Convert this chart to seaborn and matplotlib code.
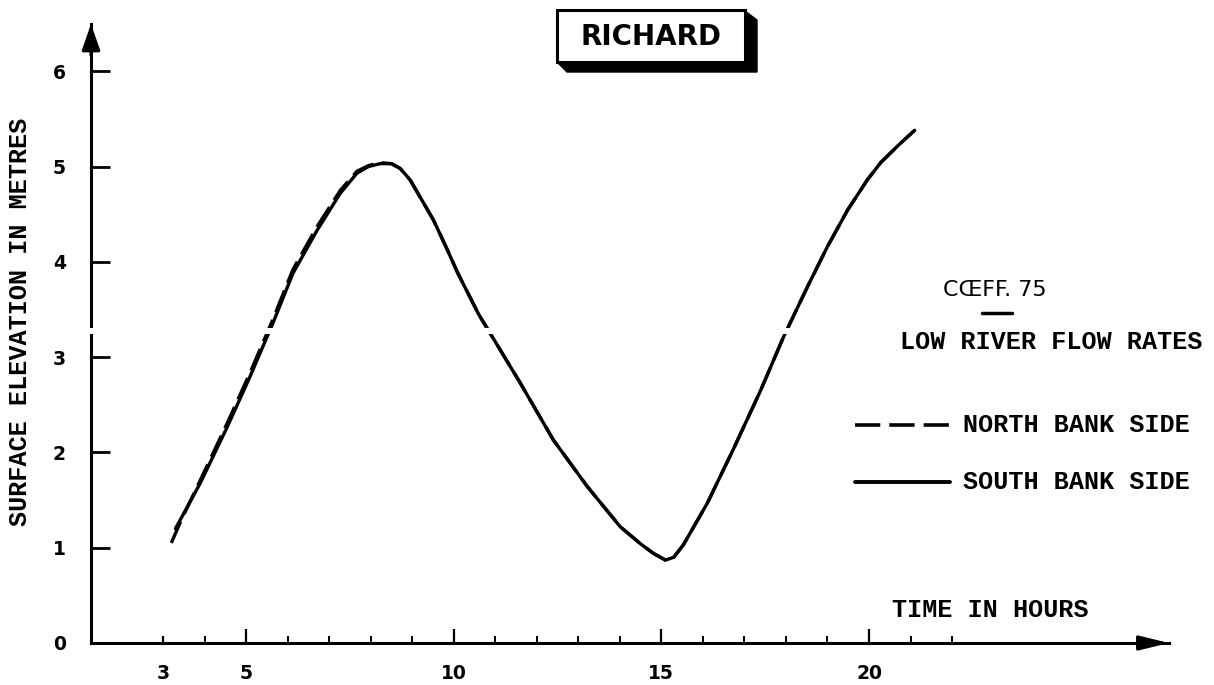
import numpy as np
import pandas as pd
import matplotlib
matplotlib.use("Agg")
import matplotlib.pyplot as plt
import matplotlib.transforms as mtransforms
from matplotlib.patches import Rectangle, Polygon
from matplotlib.lines import Line2D
import seaborn as sns

# ---------------- data ----------------
hours_south = [3.30, 3.90, 4.55, 5.10, 5.65, 6.13, 6.71, 7.27, 7.67, 7.95, 8.23, 8.50,
               8.71, 8.95, 9.51, 9.80, 10.10, 10.60, 11.60, 12.40, 13.22, 14.01, 14.50,
               14.81, 15.10, 15.30, 15.53, 16.11, 16.73, 17.39, 17.94, 18.52, 19.00,
               19.48, 19.96, 20.28, 20.70, 21.10]
elev_south = [1.20, 1.68, 2.27, 2.80, 3.36, 3.88, 4.33, 4.72, 4.93, 5.00, 5.03, 5.03,
              4.98, 4.86, 4.44, 4.17, 3.88, 3.45, 2.73, 2.13, 1.64, 1.22, 1.04,
              0.94, 0.87, 0.90, 1.03, 1.47, 2.03, 2.65, 3.21, 3.74, 4.16,
              4.54, 4.86, 5.04, 5.22, 5.38]

hours_north = [3.20, 3.45, 3.90, 4.55, 5.10, 5.65, 6.13, 6.71, 7.27, 7.67, 7.95, 8.23,
               8.50, 8.71, 8.95, 9.51, 9.80, 10.10, 10.60, 11.60, 12.40, 13.22, 14.01,
               14.50, 14.81, 15.10, 15.30, 15.53, 16.11, 16.73, 17.39, 17.94, 18.52,
               19.00, 19.48, 19.96, 20.28, 20.70, 21.10]
elev_north = [1.05, 1.30, 1.71, 2.31, 2.84, 3.40, 3.92, 4.37, 4.75, 4.95, 5.01, 5.04,
              5.03, 4.98, 4.86, 4.44, 4.17, 3.88, 3.45, 2.73, 2.13, 1.64, 1.22,
              1.04, 0.94, 0.87, 0.90, 1.03, 1.47, 2.03, 2.65, 3.21, 3.74,
              4.16, 4.54, 4.86, 5.04, 5.22, 5.38]

x_tick_labels = [3, 5, 10, 15, 20]
x_minor_ticks = [4, 6, 7, 8, 9, 11, 12, 13, 14, 16, 17, 18, 19, 21, 22]
y_ticks = [0, 1, 2, 3, 4, 5, 6]

title_text = "RICHARD"
y_label = "SURFACE ELEVATION IN METRES"
x_label = "TIME IN HOURS"
coeff_text = "CŒFF. 75"
flow_text = "LOW RIVER FLOW RATES"
north_label = "NORTH BANK SIDE"
south_label = "SOUTH BANK SIDE"

# ---------------- figure ----------------
sns.set_theme(style="white")
plt.rcParams["font.family"] = ["DejaVu Sans"]

W, H = 1214, 685
fig = plt.figure(figsize=(W / 100, H / 100), dpi=100)
fig.patch.set_facecolor("white")


def P(x, y):
    return (x / W, 1 - y / H)


ax_left, ax_right, ax_bottom, ax_top = 91, 1169, 643, 24
ax = fig.add_axes([ax_left / W, 1 - ax_bottom / H,
                   (ax_right - ax_left) / W, (ax_bottom - ax_top) / H])
ax.set_facecolor("white")

px_per_hour = (869 - 163) / 17.0
px_per_m = 95.3
ax.set_xlim(3 - (163 - ax_left) / px_per_hour, 3 + (ax_right - 163) / px_per_hour)
ax.set_ylim(0, (ax_bottom - ax_top) / px_per_m)

df_s = pd.DataFrame({"hour": hours_south, "elev": elev_south})
df_n = pd.DataFrame({"hour": hours_north, "elev": elev_north})

sns.lineplot(data=df_n, x="hour", y="elev", ax=ax, color="black", linewidth=2.4,
             linestyle=(0, (7, 2.5)), sort=False, estimator=None, zorder=3)
sns.lineplot(data=df_s, x="hour", y="elev", ax=ax, color="black", linewidth=2.4,
             sort=False, estimator=None, zorder=3)

# spines
for s in ["top", "right"]:
    ax.spines[s].set_visible(False)
for s in ["left", "bottom"]:
    ax.spines[s].set_visible(True)
    ax.spines[s].set_color("black")
    ax.spines[s].set_linewidth(2.2)

# arrows on the axes
ax.annotate("", xy=(1.0, 0), xycoords="axes fraction", xytext=(0.97, 0),
            arrowprops=dict(arrowstyle="-|>,head_length=0.9,head_width=0.22",
                            color="black", lw=2.2, shrinkA=0, shrinkB=0,
                            mutation_scale=20), annotation_clip=False)
ax.annotate("", xy=(0, 1.0), xycoords="axes fraction", xytext=(0, 0.95),
            arrowprops=dict(arrowstyle="-|>,head_length=0.8,head_width=0.28",
                            color="black", lw=2.2, shrinkA=0, shrinkB=0,
                            mutation_scale=20), annotation_clip=False)

# ticks
tick_font = dict(family="DejaVu Sans", weight="bold", size=13.5)
ax.set_xticks(x_tick_labels)
ax.set_xticklabels([str(v) for v in x_tick_labels], fontdict=tick_font)
ax.set_xticks(x_minor_ticks, minor=True)
ax.set_yticks(y_ticks)
ax.set_yticklabels([str(v) for v in y_ticks], fontdict=tick_font)
ax.tick_params(axis="x", which="major", direction="in", length=10, width=1.6,
               pad=15, colors="black", bottom=True)
ax.tick_params(axis="x", which="minor", direction="in", length=5, width=1.4,
               bottom=True, colors="black")
ax.tick_params(axis="y", which="major", direction="in", length=14, width=2.0,
               pad=18, colors="black", left=True)
ax.xaxis.get_major_ticks()[0].tick1line.set_markersize(5)
ax.set_xlabel("")
ax.set_ylabel("")
ax.grid(False)

# horizontal seam of the original scan (gap in lines just above 3 m)
seam_tr = mtransforms.blended_transform_factory(ax.transAxes, ax.transData)
ax.add_patch(Rectangle((-0.01, 3.24), 0.71, 0.07, transform=seam_tr,
                       facecolor="white", edgecolor="none", zorder=6, clip_on=False))

# axis titles
mono = dict(family="Liberation Mono", weight="bold", size=18.1, color="black")
fig.text(*P(20, 322), y_label, rotation=90, ha="center", va="center", **mono)
fig.text(*P(892, 610), x_label, ha="left", va="center", **mono)

# annotations / legend
fig.text(*P(943, 290), coeff_text, ha="left", va="center",
         family="DejaVu Sans", size=16, color="black")
fig.add_artist(Line2D([982 / W, 1012 / W], [1 - 313 / H, 1 - 313 / H],
                      color="black", lw=2.5, transform=fig.transFigure))
fig.text(*P(900, 342), flow_text, ha="left", va="center", **mono)

fig.add_artist(Line2D([855 / W, 950 / W], [1 - 425 / H, 1 - 425 / H],
                      color="black", lw=2.6, linestyle=(0, (7, 2.5)),
                      transform=fig.transFigure))
fig.text(*P(963, 425), north_label, ha="left", va="center", **mono)
fig.add_artist(Line2D([855 / W, 950 / W], [1 - 482 / H, 1 - 482 / H],
                      color="black", lw=2.8, transform=fig.transFigure))
fig.text(*P(963, 482), south_label, ha="left", va="center", **mono)

# title box with 3D shadow
shadow = Polygon([P(745, 11), P(757, 20), P(757, 72), P(567, 72), P(557, 62), P(745, 62)],
                 closed=True, facecolor="black", edgecolor="black",
                 transform=fig.transFigure)
fig.add_artist(shadow)
x0, y0 = P(557, 62)
x1, y1 = P(745, 10)
front = Rectangle((x0, y0), x1 - x0, y1 - y0, facecolor="white", edgecolor="black",
                  lw=2.2, transform=fig.transFigure)
fig.add_artist(front)
fig.text(*P(651, 37), title_text, ha="center", va="center",
         family="DejaVu Sans", weight="bold", size=20, color="black")

fig.savefig("out.png", dpi=100, facecolor="white")
